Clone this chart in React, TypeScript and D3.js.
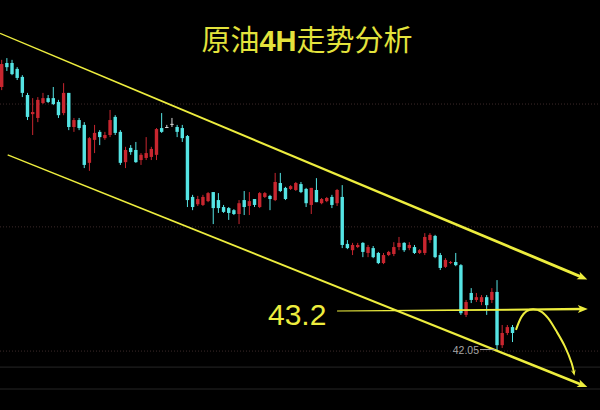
import React from "react";
import * as d3 from "d3";

// OHLC candles (4H), price units: [open, high, low, close]
const candles: [number, number, number, number][] = [
  [49.61, 50.39, 49.52, 50.27],
  [50.30, 50.44, 50.07, 50.18],
  [50.30, 50.39, 49.95, 49.98],
  [50.13, 50.18, 49.81, 49.87],
  [49.90, 49.95, 49.32, 49.44],
  [49.38, 49.44, 48.66, 48.75],
  [48.83, 49.29, 48.23, 48.89],
  [48.72, 49.32, 48.60, 49.24],
  [49.15, 49.44, 49.12, 49.29],
  [49.29, 49.38, 49.15, 49.18],
  [49.29, 49.61, 49.09, 49.12],
  [49.18, 49.24, 48.72, 48.80],
  [48.86, 49.72, 48.80, 49.44],
  [49.44, 49.44, 48.37, 48.46],
  [48.46, 48.72, 48.32, 48.66],
  [48.66, 48.72, 48.37, 48.43],
  [48.52, 48.60, 47.28, 47.37],
  [47.43, 48.17, 47.20, 48.14],
  [48.09, 48.52, 47.71, 48.29],
  [48.32, 48.37, 47.94, 48.17],
  [48.14, 48.32, 48.09, 48.23],
  [48.23, 48.95, 48.17, 48.66],
  [48.75, 48.80, 48.23, 48.29],
  [48.32, 48.37, 47.37, 47.43],
  [47.45, 47.89, 47.28, 47.80],
  [47.86, 47.94, 47.66, 47.74],
  [47.80, 48.03, 47.43, 47.45],
  [47.51, 47.71, 47.37, 47.66],
  [47.57, 48.17, 47.51, 47.71],
  [47.60, 47.89, 47.51, 47.83],
  [47.66, 48.43, 47.51, 48.40],
  [48.43, 48.86, 48.29, 48.32],
  [48.46, 48.52, 48.43, 48.46],
  [48.55, 48.72, 48.46, 48.55],
  [48.46, 48.52, 48.17, 48.32],
  [48.43, 48.52, 48.03, 48.14],
  [48.20, 48.23, 46.16, 46.36],
  [46.45, 46.51, 46.07, 46.16],
  [46.24, 46.48, 46.19, 46.39],
  [46.22, 46.51, 46.19, 46.45],
  [46.33, 46.59, 46.30, 46.56],
  [46.59, 46.59, 45.67, 46.13],
  [46.36, 46.56, 45.99, 46.13],
  [46.16, 46.22, 45.99, 46.02],
  [46.13, 46.16, 45.79, 45.99],
  [46.07, 46.10, 45.93, 45.96],
  [45.96, 46.36, 45.67, 46.27],
  [46.36, 46.62, 45.93, 46.16],
  [46.19, 46.59, 45.93, 46.33],
  [46.39, 46.39, 46.16, 46.22],
  [46.16, 46.59, 46.13, 46.56],
  [46.45, 46.59, 46.42, 46.56],
  [46.48, 46.51, 46.07, 46.39],
  [46.36, 47.14, 46.33, 46.88],
  [46.85, 47.14, 46.59, 46.62],
  [46.71, 46.74, 46.36, 46.39],
  [46.68, 46.79, 46.65, 46.76],
  [46.65, 46.88, 46.62, 46.85],
  [46.82, 46.88, 46.56, 46.59],
  [46.68, 46.71, 46.16, 46.27],
  [46.22, 46.71, 45.96, 46.71],
  [46.65, 46.99, 46.30, 46.30],
  [46.27, 46.42, 46.24, 46.39],
  [46.33, 46.45, 46.30, 46.42],
  [46.45, 46.51, 46.13, 46.22],
  [46.27, 46.68, 46.19, 46.65],
  [46.45, 46.79, 44.98, 45.07],
  [45.10, 45.21, 44.95, 44.98],
  [44.92, 45.13, 44.78, 45.07],
  [45.01, 45.13, 44.98, 45.07],
  [45.13, 45.15, 44.72, 44.87],
  [44.84, 45.07, 44.72, 45.01],
  [44.98, 45.04, 44.69, 44.72],
  [44.84, 44.87, 44.52, 44.55],
  [44.55, 44.84, 44.52, 44.78],
  [44.78, 44.90, 44.75, 44.87],
  [44.81, 45.15, 44.75, 45.01],
  [45.01, 45.30, 44.92, 45.13],
  [45.13, 45.15, 44.87, 44.92],
  [44.98, 45.15, 44.92, 45.07],
  [45.01, 45.07, 44.81, 44.84],
  [44.84, 44.95, 44.81, 44.92],
  [44.84, 45.41, 44.78, 45.30],
  [45.21, 45.41, 45.13, 45.36],
  [45.33, 45.36, 44.69, 44.72],
  [44.78, 44.84, 44.35, 44.41],
  [44.44, 44.69, 44.41, 44.64],
  [44.55, 44.61, 44.52, 44.58],
  [44.58, 44.84, 44.46, 44.49],
  [44.49, 44.52, 43.06, 43.11],
  [43.06, 43.49, 43.00, 43.43],
  [43.69, 43.83, 43.40, 43.49],
  [43.49, 43.69, 43.43, 43.57],
  [43.43, 43.63, 43.34, 43.57],
  [43.57, 43.63, 43.06, 43.34],
  [43.49, 43.83, 43.40, 43.72],
  [43.72, 44.06, 42.05, 42.19],
  [42.19, 42.77, 42.11, 42.54],
  [42.54, 42.77, 42.48, 42.71],
  [42.71, 42.77, 42.28, 42.54],
];

// horizontal reference grid levels
const gridDotted = [49.12, 45.59, 42.02];
const gridSolid = [41.56, 40.93];

// annotation lines: [candle index, price]
const upperChannel: [number, number][] = [[-0.33, 51.15], [113.5, 44.08]];
const lowerChannel: [number, number][] = [[1.16, 47.66], [113.5, 40.99]];
const resistance: [number, number][] = [[65, 43.17], [113.6, 43.23]];
const forecastPath: [number, number][] = [
  [99.67, 42.63], [100.77, 43.01], [101.74, 43.17], [103.02, 43.22],
  [104.65, 43.15], [105.93, 42.96], [107.56, 42.58], [109.17, 42.15],
  [110.47, 41.67], [110.92, 41.40],
];

const title = ["原油", "4H", "走势分析"];
const resistanceLabel = "43.2";
const lowLabel = "42.05";
const lowPrice = 42.05;
const lowIndex = 96;

const W = 600;
const H = 410;
const YELLOW = "#eded3e";
const CYAN = "#55e4e4";
const RED = "#c8262f";
const DOJI = "#d8d8d8";

function taper(p0: [number, number], p1: [number, number], w0: number, w1: number) {
  const dx = p1[0] - p0[0];
  const dy = p1[1] - p0[1];
  const len = Math.hypot(dx, dy);
  const nx = -dy / len;
  const ny = dx / len;
  const pts = [
    [p0[0] + nx * w0 / 2, p0[1] + ny * w0 / 2],
    [p1[0] + nx * w1 / 2, p1[1] + ny * w1 / 2],
    [p1[0] - nx * w1 / 2, p1[1] - ny * w1 / 2],
    [p0[0] - nx * w0 / 2, p0[1] - ny * w0 / 2],
  ];
  return "M" + pts.map((p) => p.join(",")).join("L") + "Z";
}

function arrowHead(tip: [number, number], from: [number, number], len: number, half: number) {
  const dx = tip[0] - from[0];
  const dy = tip[1] - from[1];
  const l = Math.hypot(dx, dy);
  const ux = dx / l;
  const uy = dy / l;
  const bx = tip[0] - ux * len;
  const by = tip[1] - uy * len;
  return `M${tip[0]},${tip[1]}L${bx - uy * half},${by + ux * half}L${bx + ux * 2.5},${by + uy * 2.5}L${bx + uy * half},${by - ux * half}Z`;
}

export default function App() {
  const x = d3.scaleLinear().domain([0, 99]).range([1.7, 512.5]);
  const y = d3.scaleLinear().domain([40.327, 52.11]).range([H, 0]);
  const bw = 3.4;

  const pt = (d: [number, number]): [number, number] => [x(d[0]), y(d[1])];

  const channelLine = (d: [number, number][], w0: number, w1: number) => {
    const a = pt(d[0]);
    const b = pt(d[1]);
    // shorten the shaft slightly so the arrowhead sits at the tip
    const l = Math.hypot(b[0] - a[0], b[1] - a[1]);
    const s: [number, number] = [b[0] - ((b[0] - a[0]) / l) * 6, b[1] - ((b[1] - a[1]) / l) * 6];
    return (
      <g>
        <path d={taper(a, s, w0, w1)} fill={YELLOW} />
        <path d={arrowHead(b, a, 10, 4)} fill={YELLOW} />
      </g>
    );
  };

  const curve = d3
    .line<[number, number]>()
    .x((d) => x(d[0]))
    .y((d) => y(d[1]))
    .curve(d3.curveCatmullRom.alpha(0.5));

  const fEnd = pt(forecastPath[forecastPath.length - 1]);
  const fPrev = pt(forecastPath[forecastPath.length - 2]);

  return (
    <div style={{ position: "fixed", left: 0, top: 0, width: W, height: H }}>
      <svg width={W} height={H} style={{ display: "block", background: "#000" }}>
        <rect x={0} y={0} width={W} height={H} fill="#000" />
        {gridDotted.map((g, i) => (
          <line key={"gd" + i} x1={0} x2={W} y1={y(g)} y2={y(g)} stroke="#3c2a2a" strokeWidth={1} strokeDasharray="1,2" />
        ))}
        {gridSolid.map((g, i) => (
          <line key={"gs" + i} x1={0} x2={W} y1={y(g)} y2={y(g)} stroke="#262626" strokeWidth={1} />
        ))}

        {candles.map((c, i) => {
          const [o, h, l, cl] = c;
          const col = cl > o ? RED : cl < o ? CYAN : DOJI;
          const cx = x(i);
          const top = y(Math.max(o, cl));
          const bh = Math.max(1, Math.abs(y(o) - y(cl)));
          return (
            <g key={i}>
              <line x1={cx} x2={cx} y1={y(h)} y2={y(l)} stroke={col} strokeWidth={1} />
              <rect x={cx - bw / 2} y={top} width={bw} height={bh} fill={col} />
            </g>
          );
        })}

        {channelLine(upperChannel, 1.3, 3)}
        {channelLine(lowerChannel, 1.2, 2.6)}
        {channelLine(resistance, 1.0, 2.4)}

        <path d={curve(forecastPath) || ""} fill="none" stroke={YELLOW} strokeWidth={2} />
        <path d={arrowHead([fEnd[0] + 0.5, fEnd[1] + 3], fPrev, 6, 2.5)} fill={YELLOW} />

        <text
          x={x(lowIndex) - 18}
          y={y(lowPrice) + 4}
          textAnchor="end"
          fontFamily="Liberation Sans, Arial, sans-serif"
          fontSize={10.5}
          fill="#a6a6a6"
        >
          {lowLabel}
        </text>
        <line x1={x(lowIndex) - 17} x2={x(lowIndex) - 2} y1={y(lowPrice) - 0.5} y2={y(lowPrice) - 0.5} stroke="#a6a6a6" strokeWidth={1} />

        <text
          x={268}
          y={y(43.2) + 15}
          fontFamily="Liberation Sans, Arial, sans-serif"
          fontSize={30}
          fill={YELLOW}
        >
          {resistanceLabel}
        </text>

        <text
          x={307}
          y={51}
          textAnchor="middle"
          fontFamily="'Noto Sans CJK SC', 'Noto Sans', sans-serif"
          fontSize={29}
          fill="#e3e33c"
        >
          <tspan>{title[0]}</tspan>
          <tspan fontWeight="bold" fontFamily="Liberation Sans, Arial, sans-serif">{title[1]}</tspan>
          <tspan>{title[2]}</tspan>
        </text>
      </svg>
    </div>
  );
}
